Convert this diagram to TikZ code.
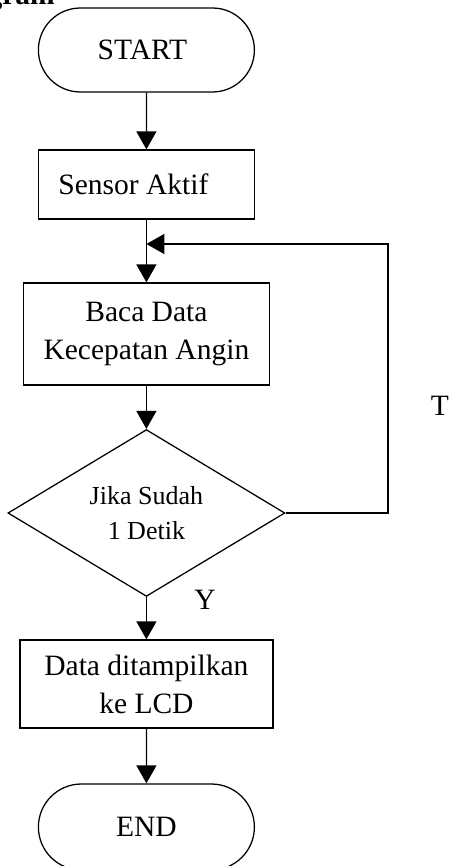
\documentclass[tikz,border=0pt]{standalone}
\usepackage{fontspec}
\setmainfont{Liberation Serif}
\usetikzlibrary{shapes.geometric, shapes.misc, arrows.meta}
\begin{document}
\begin{tikzpicture}[
	kotak/.style={draw, line width=0.9pt, align=center, inner sep=0pt, font=\fontsize{21}{27}\selectfont},
	terminal/.style={kotak, rounded rectangle, minimum width=5.4cm, minimum height=2.1cm},
	keputusan/.style={kotak, diamond, minimum width=6.925cm, minimum height=3.525cm, font=\fontsize{18.5}{25}\selectfont},
	label/.style={inner sep=0pt, font=\fontsize{21}{24}\selectfont},
	panah/.style={line width=0.9pt, -{Triangle[length=0.45cm, width=0.5cm]}}
	]
%		\draw[help lines] (0,0) grid (11,-21);
		\useasboundingbox (0,0) rectangle (11.2,-21.65);
		\node[label, anchor=base east, font=\bfseries\fontsize{21}{24}\selectfont] (judul) at (1.375,-0.1) {gram};
		\node[terminal] (start) at (3.66,-1.25) {START\hspace*{0.2cm}};
		\node[kotak, minimum width=5.4cm, minimum height=1.725cm] (sensor) at (3.66,-4.6125) {Sensor Aktif\hspace*{0.65cm}};
		\node[kotak, minimum width=6.15cm, minimum height=2.55cm] (baca) at (3.66,-8.35) {Baca Data\\Kecepatan Angin};
		\node[keputusan] (jika) at (3.66,-12.825) {Jika Sudah\\1 Detik};
		\node[kotak, minimum width=6.325cm, minimum height=2.2cm] (data) at (3.66,-17.1) {Data ditampilkan\\ke LCD};
		\node[terminal, minimum height=2.15cm] (end) at (3.66,-20.675) {END};
		\coordinate (balik) at (3.66,-6.1);
		\coordinate (sudut) at (9.7,-6.1);
		\node[label] (t) at (11.0,-10.15) {T};
		\node[label] (y) at (5.125,-15.0) {Y};
		\draw[panah] (start) -- (sensor);
		\draw[panah] (sensor) -- (baca);
		\draw[panah] (baca) -- (jika);
		\draw[panah] (jika) -- (data);
		\draw[panah] (data) -- (end);
		\draw[panah] (jika.east) -| (sudut) -- (balik);
	\end{tikzpicture}
\end{document}
